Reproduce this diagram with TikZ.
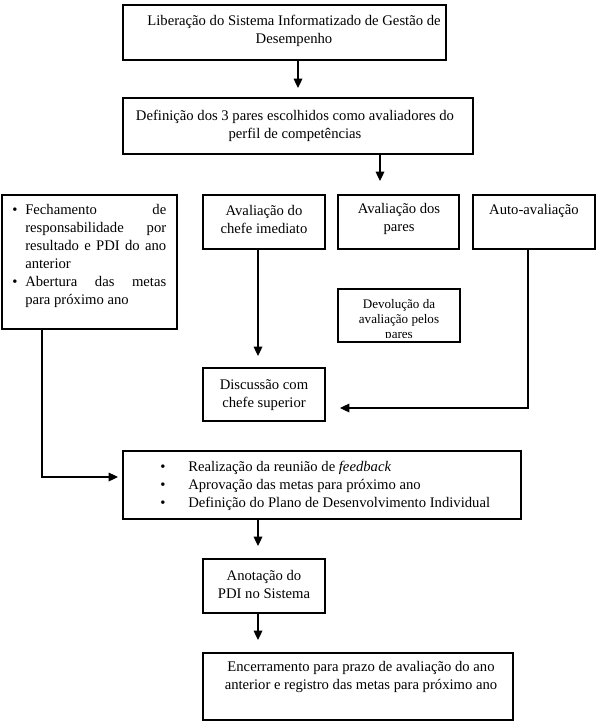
\documentclass[tikz,border=0pt]{standalone}
\usepackage{fontspec}
\setmainfont{Liberation Serif}
\usetikzlibrary{arrows.meta,fit}
\begin{document}
\begin{tikzpicture}[x=0.75pt,y=-0.75pt,
  box/.style={draw, line width=0.9pt, inner sep=0pt},
  txt/.style={align=center, font=\fontsize{11}{13.5}\selectfont, inner sep=0pt},
  small/.style={align=center, font=\fontsize{9.8}{11.25}\selectfont, inner sep=0pt},
  conn/.style={line width=0.9pt},
  arr/.style={conn, -{Triangle[length=7pt,width=6.5pt]}}]
\useasboundingbox (0,0) rectangle (600,725);

% boxes
\node[box, fit={(123,5) (446,60)}] (lib) {};
\node[box, fit={(123,98) (473,154)}] (def) {};
\node[box, fit={(2,195) (177,329)}] (left) {};
\node[box, fit={(203,195) (325,249)}] (chefe) {};
\node[box, fit={(338,195) (459,249)}] (pares) {};
\node[box, fit={(473,195) (595,249)}] (auto) {};
\node[box, fit={(338,289) (460,342)}] (dev) {};
\node[box, fit={(203,368) (325,421)}] (disc) {};
\node[box, fit={(123,451) (521,519)}] (fb) {};
\node[box, fit={(203,559) (325,613)}] (anot) {};
\node[box, fit={(203,653) (513,720)}] (enc) {};

% texts
\node[txt] (libt) at (294,31) {Liberação do Sistema Informatizado de Gestão de\\Desempenho};
\node[txt] (deft) at (295,126) {Definição dos 3 pares escolhidos como avaliadores do\\perfil de competências};
\node[txt] (chefet) at (264,219) {Avaliação do\\chefe imediato};
\node[txt] (parest) at (399,219) {Avaliação dos\\pares};
\node[txt] (autot) at (534,211) {Auto-avaliação};
\begin{scope}
  \clip (338,289) rectangle (460,337);
  \node[small] (devt) at (399,320) {Devolução da\\avaliação pelos\\pares};
\end{scope}
\node[txt] (disct) at (264,395) {Discussão com\\chefe superior};
\node[txt] (anott) at (264,584) {Anotação do\\PDI no Sistema};
\node[txt] (enct) at (361,677) {Encerramento para prazo de avaliação do ano\\anterior e registro das metas para próximo ano};

\node[anchor=base west, inner sep=0pt, font=\fontsize{11}{13.5}\selectfont] (leftt) at (12,214)
  {\parbox[t]{115.5pt}{%
    \noindent\hangindent=9.75pt\hangafter=1\makebox[9.75pt][l]{\textbullet}Fechamento de\linebreak responsabilidade por\linebreak resultado e PDI do ano\linebreak anterior\par
    \noindent\hangindent=9.75pt\hangafter=1\makebox[9.75pt][l]{\textbullet}Abertura das metas\linebreak para próximo ano\par}};

\node[anchor=west, inner sep=0pt, align=left, font=\fontsize{11}{13.5}\selectfont] (fbt) at (160,486)
  {\makebox[21pt][l]{\textbullet}Realização da reunião de \textit{feedback}\\
   \makebox[21pt][l]{\textbullet}Aprovação das metas para próximo ano\\
   \makebox[21pt][l]{\textbullet}Definição do Plano de Desenvolvimento Individual};

% connectors
\draw[arr] (lib.south -| 298,0) -- (298,88);
\draw[arr] (def.south -| 380,0) -- (380,181);
\draw[arr] (chefe.south -| 258,0) -- (258,356);
\draw[arr] (auto.south -| 528,0) |- (340,408);
\draw[arr] (left.south -| 42,0) |- (118,477);
\draw[arr] (fb.south -| 258,0) -- (258,546);
\draw[arr] (anot.south -| 258,0) -- (258,640);
\end{tikzpicture}
\end{document}
